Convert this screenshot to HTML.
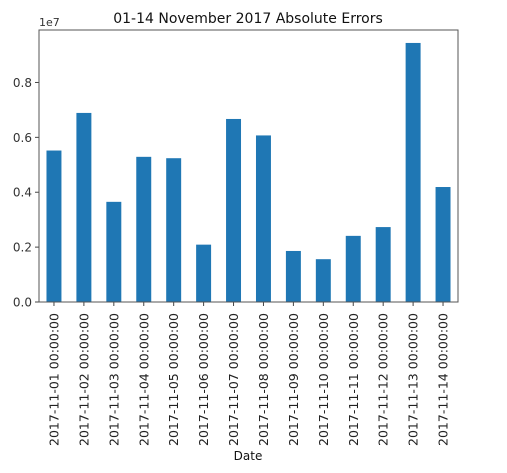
<!DOCTYPE html>
<html><head><meta charset="utf-8"><style>
html,body{margin:0;padding:0;background:#fff}
svg{display:block;font-family:"DejaVu Sans","Liberation Sans",sans-serif}
</style></head><body>
<svg id="chart" width="507" height="473" viewBox="0 0 507 473" xmlns="http://www.w3.org/2000/svg">
<text x="248" y="23" font-size="14" text-anchor="middle" fill="#111">01-14 November 2017 Absolute Errors</text>
<text x="39" y="26" font-size="11" fill="#333">1e7</text>
<g id="bars"></g>
<g id="yaxis"></g>
<g id="xaxis"></g>
<rect x="39" y="30" width="419" height="272" fill="none" stroke="#555" stroke-width="1"/>
<text x="248" y="460" font-size="12" text-anchor="middle" fill="#111">Date</text>
</svg>
<script>
const categories = ["2017-11-01 00:00:00","2017-11-02 00:00:00","2017-11-03 00:00:00","2017-11-04 00:00:00","2017-11-05 00:00:00","2017-11-06 00:00:00","2017-11-07 00:00:00","2017-11-08 00:00:00","2017-11-09 00:00:00","2017-11-10 00:00:00","2017-11-11 00:00:00","2017-11-12 00:00:00","2017-11-13 00:00:00","2017-11-14 00:00:00"];
const errors = [5520000,6890000,3650000,5290000,5240000,2090000,6670000,6070000,1860000,1560000,2410000,2730000,9440000,4190000];
const yTicks = [0,2000000,4000000,6000000,8000000];
const yTickLabels = ["0.0","0.2","0.4","0.6","0.8"];

const NS="http://www.w3.org/2000/svg";
const L=39,R=458,T=30,B=302;
const yMax=Math.max(...errors)*1.05;
function y(v){return B-(v/yMax)*(B-T);}
const step=(R-L)/categories.length;
function xc(i){return L+step*(i+0.5);}
function mk(tag,attrs,parent){const e=document.createElementNS(NS,tag);for(const k in attrs)e.setAttribute(k,attrs[k]);parent.appendChild(e);return e;}
const bars=document.getElementById('bars'),ya=document.getElementById('yaxis'),xa=document.getElementById('xaxis');
errors.forEach((v,i)=>{
  const w=step*0.5;
  const r=mk('rect',{x:xc(i)-w/2,y:y(v),width:w,height:B-y(v),fill:'#1f77b4'},bars);
  
  
});
yTicks.forEach((t,i)=>{
  const yy=y(t);
  const ln=mk('line',{x1:L-4,x2:L,y1:yy,y2:yy,stroke:'#444'},ya);
  
  
  const tx=mk('text',{x:L-7,y:yy+4.5,'font-size':'12','text-anchor':'end',fill:'#333'},ya);
  tx.textContent=yTickLabels[i];
  
  
});
categories.forEach((c,i)=>{
  const x=xc(i);
  const ln=mk('line',{x1:x,x2:x,y1:B,y2:B+4,stroke:'#444'},xa);
  
  
  const tx=mk('text',{x:0,y:0,'font-size':'12','text-anchor':'end',fill:'#222',textLength:'133',lengthAdjust:'spacingAndGlyphs',transform:`translate(${x+4.5},${B+11}) rotate(-90)`},xa);
  tx.textContent=c;
  
  
});
</script>
</body></html>
